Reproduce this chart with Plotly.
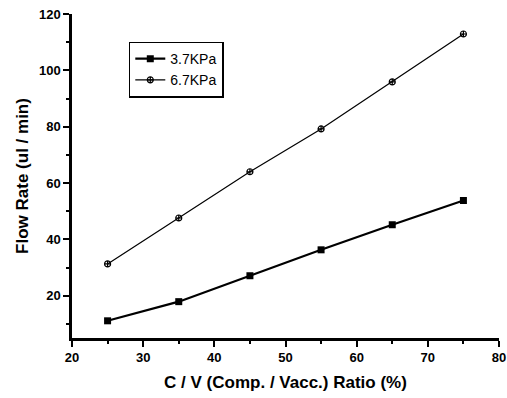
import plotly.graph_objects as go

x_vals = [25, 35, 45, 55, 65, 75]
flow_37 = [11.1, 17.9, 27.1, 36.3, 45.2, 53.8]
flow_67 = [31.3, 47.6, 64.0, 79.2, 95.9, 112.9]
series_names = ["3.7KPa", "6.7KPa"]

fig = go.Figure()
fig.add_trace(go.Scatter(
    x=x_vals, y=flow_37, name=series_names[0], mode="lines+markers",
    line=dict(color="black", width=2.2),
    marker=dict(symbol="square", size=7, color="black"),
))
fig.add_trace(go.Scatter(
    x=x_vals, y=flow_67, name=series_names[1], mode="lines+markers",
    line=dict(color="black", width=1.2),
    marker=dict(symbol="circle-cross-open", size=6, color="black", line=dict(width=1.2)),
))

axis_font = dict(family="Liberation Sans, Arial", size=13, color="black", weight="bold")
title_font = dict(family="Liberation Sans, Arial", size=17, color="black", weight="bold")
fig.update_layout(
    width=507, height=398,
    margin=dict(l=72, r=8, t=14, b=60, autoexpand=False),
    paper_bgcolor="white", plot_bgcolor="white",
    showlegend=True,
    legend=dict(
        x=0.133, y=0.915, xanchor="left", yanchor="top",
        bgcolor="white", bordercolor="black", borderwidth=1.5,
        font=dict(family="Liberation Sans, Arial", size=14, color="black"),
        tracegroupgap=0, itemwidth=30,
    ),
    font=dict(family="Liberation Sans, Arial", color="black"),
)
fig.update_xaxes(
    range=[20, 80], tickvals=[20, 30, 40, 50, 60, 70, 80], automargin=False,
    showline=True, linecolor="black", linewidth=2.5,
    ticks="outside", ticklen=6, tickwidth=2, tickcolor="black",
    minor=dict(tickvals=[25, 35, 45, 55, 65, 75], ticks="outside", ticklen=3, tickwidth=1.5, tickcolor="black"),
    showgrid=False, zeroline=False, tickfont=axis_font,
    title=dict(text="C / V (Comp. / Vacc.) Ratio (%)", font=title_font, standoff=12),
)
fig.update_yaxes(
    range=[5, 120], tickvals=[20, 40, 60, 80, 100, 120], automargin=False,
    showline=True, linecolor="black", linewidth=2.5,
    ticks="outside", ticklen=6, tickwidth=2, tickcolor="black",
    minor=dict(tickvals=[10, 30, 50, 70, 90, 110], ticks="outside", ticklen=3, tickwidth=1.5, tickcolor="black"),
    showgrid=False, zeroline=False, tickfont=axis_font,
    title=dict(text="Flow Rate (ul / min)", font=title_font, standoff=6),
)
fig.write_html("out.html", config={"displayModeBar": False},
               post_script="document.body.style.margin='0';document.body.style.overflow='hidden';")
